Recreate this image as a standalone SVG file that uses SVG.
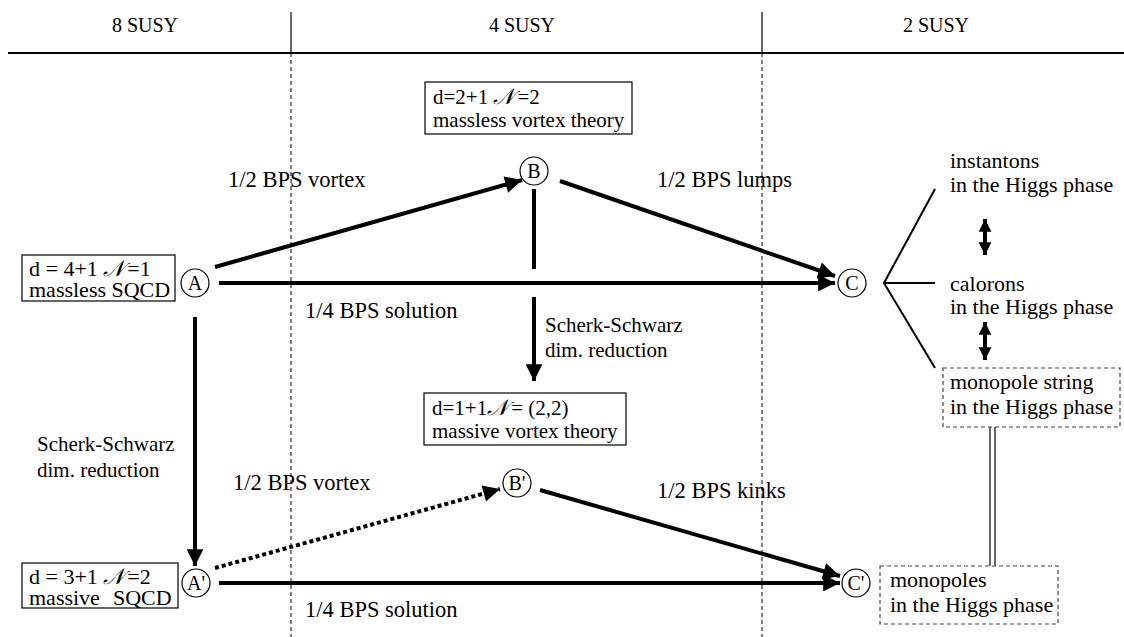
<svg xmlns="http://www.w3.org/2000/svg" width="1124" height="637" viewBox="0 0 1124 637" font-family="'Liberation Serif', 'Times New Roman', Times, serif">
<defs>
<style>
text{font-family:'Liberation Serif','Times New Roman',Times,serif;font-size:21px;fill:#000}
.hdr{font-size:20px;text-anchor:middle}
.lbl{font-size:22.5px}
.big{font-size:22px}
.side{font-size:22px}
.box{fill:#fff;stroke:#000;stroke-width:1.2}
.dbox{fill:#fff;stroke:#444;stroke-width:1.2;stroke-dasharray:4 3}
.circ{fill:#fff;stroke:#000;stroke-width:1.2}
.thick{stroke:#000;stroke-width:4;fill:none}
.thin{stroke:#000;stroke-width:2;fill:none}
.dot{stroke:#000;stroke-width:4;fill:none;stroke-dasharray:4 3}
.sep{stroke:#000;stroke-width:1;stroke-dasharray:4 3;fill:none}
.cn{text-anchor:middle;font-size:20px}
.scr{font-family:'DejaVu Serif',serif;font-style:italic;font-size:22px}
</style>
<marker id="ah" viewBox="0 0 10 10" refX="10" refY="5" markerWidth="5.5" markerHeight="4.2" orient="auto" markerUnits="strokeWidth"><path d="M0,0 L10,5 L0,10 z" fill="#000"/></marker>
<marker id="ah2" viewBox="0 0 10 10" refX="10" refY="5" markerWidth="3.2" markerHeight="5" orient="auto" markerUnits="strokeWidth"><path d="M0,0 L10,5 L0,10 z" fill="#000"/></marker>
<marker id="ah2s" viewBox="0 0 10 10" refX="0" refY="5" markerWidth="3.2" markerHeight="5" orient="auto" markerUnits="strokeWidth"><path d="M10,0 L0,5 L10,10 z" fill="#000"/></marker>
</defs>
<g id="header">
<line x1="8" y1="53" x2="1124" y2="53" stroke="#000" stroke-width="2"/>
<line x1="291" y1="12" x2="291" y2="53" stroke="#000" stroke-width="1.2"/>
<line x1="762" y1="12" x2="762" y2="53" stroke="#000" stroke-width="1.2"/>
<line class="sep" x1="291" y1="53" x2="291" y2="637"/>
<line class="sep" x1="762" y1="53" x2="762" y2="637"/>
<text class="hdr" x="145" y="32">8 SUSY</text>
<text class="hdr" x="522" y="32">4 SUSY</text>
<text class="hdr" x="936" y="32">2 SUSY</text>
</g>
<g id="connectors">
<line class="thick" x1="215" y1="267" x2="522" y2="180" marker-end="url(#ah)"/>
<line class="thick" x1="560" y1="181" x2="835" y2="276" marker-end="url(#ah)"/>
<line class="thick" x1="219" y1="283" x2="835" y2="283" marker-end="url(#ah)"/>
<line class="thick" x1="534" y1="189" x2="534" y2="269"/>
<line class="thick" x1="534" y1="297" x2="534" y2="381" marker-end="url(#ah)"/>
<line class="thick" x1="195" y1="317" x2="195" y2="566" marker-end="url(#ah)"/>
<line class="dot" x1="215" y1="568" x2="500" y2="489" marker-end="url(#ah)"/>
<line class="thick" x1="540" y1="490" x2="840" y2="576" marker-end="url(#ah)"/>
<line class="thick" x1="219" y1="583" x2="840" y2="583" marker-end="url(#ah)"/>
<polyline class="thin" points="935,189 884,283 935,368"/>
<line class="thin" x1="884" y1="283" x2="935" y2="283"/>
<line class="thick" x1="985" y1="219" x2="985" y2="255" marker-start="url(#ah2s)" marker-end="url(#ah2)"/>
<line class="thick" x1="985" y1="322" x2="985" y2="360" marker-start="url(#ah2s)" marker-end="url(#ah2)"/>
<line stroke="#000" stroke-width="1.2" x1="990" y1="427" x2="990" y2="566"/>
<line stroke="#000" stroke-width="1.2" x1="995" y1="427" x2="995" y2="566"/>
<text class="lbl" x="228" y="187">1/2 BPS vortex</text>
<text class="lbl" x="657" y="187">1/2 BPS lumps</text>
<text class="lbl" x="305" y="318">1/4 BPS solution</text>
<text x="545" y="332">Scherk-Schwarz</text>
<text x="545" y="357">dim. reduction</text>
<text x="37" y="451">Scherk-Schwarz</text>
<text x="37" y="477">dim. reduction</text>
<text class="lbl" x="233" y="490">1/2 BPS vortex</text>
<text class="lbl" x="657" y="498">1/2 BPS kinks</text>
<text class="lbl" x="305" y="617">1/4 BPS solution</text>
</g>
<g id="nodeA">
<rect class="box" x="22" y="255" width="153" height="46"/>
<text class="big" x="29" y="276">d = 4+1  <tspan class="scr">𝒩</tspan><tspan dx="3">=1</tspan></text>
<text class="big" x="29" y="297">massless SQCD</text>
<circle class="circ" cx="195" cy="283" r="14"/>
<text class="cn" x="195" y="290">A</text>
</g>
<g id="nodeB">
<rect class="box" x="425" y="82" width="207" height="52"/>
<text x="433" y="104">d=2+1 <tspan class="scr">𝒩</tspan><tspan dx="3">=2</tspan></text>
<text x="433" y="127">massless vortex theory</text>
<circle class="circ" cx="534" cy="171" r="14"/>
<text class="cn" x="534" y="178">B</text>
</g>
<g id="nodeC">
<circle class="circ" cx="852" cy="283" r="14"/>
<text class="cn" x="852" y="290">C</text>
</g>
<g id="nodeBp">
<rect class="box" x="424" y="393" width="202" height="52"/>
<text x="432" y="415">d=1+1<tspan class="scr">𝒩</tspan><tspan dx="3">= (2,2)</tspan></text>
<text x="432" y="438">massive vortex theory</text>
<circle class="circ" cx="517" cy="483" r="14"/>
<text class="cn" x="517" y="490">B'</text>
</g>
<g id="nodeAp">
<rect class="box" x="22" y="563" width="156" height="45"/>
<text class="big" x="29" y="584">d = 3+1  <tspan class="scr">𝒩</tspan><tspan dx="3">=2</tspan></text>
<text class="big" x="29" y="605">massive<tspan x="113">SQCD</tspan></text>
<circle class="circ" cx="196" cy="583" r="14"/>
<text class="cn" x="196" y="590">A'</text>
</g>
<g id="nodeCp">
<circle class="circ" cx="856" cy="583" r="14"/>
<text class="cn" x="856" y="590">C'</text>
</g>
<g id="instantons">
<text class="side" x="950" y="168">instantons</text>
<text class="side" x="950" y="192">in the Higgs phase</text>
</g>
<g id="calorons">
<text class="side" x="950" y="291">calorons</text>
<text class="side" x="950" y="314">in the Higgs phase</text>
</g>
<g id="monopoleString">
<rect class="dbox" x="943" y="368" width="177" height="59"/>
<text class="side" x="950" y="389">monopole string</text>
<text class="side" x="950" y="414">in the Higgs phase</text>
</g>
<g id="monopoles">
<rect class="dbox" x="880" y="566" width="178" height="58"/>
<text class="side" x="890" y="587">monopoles</text>
<text class="side" x="890" y="612">in the Higgs phase</text>
</g>
</svg>
